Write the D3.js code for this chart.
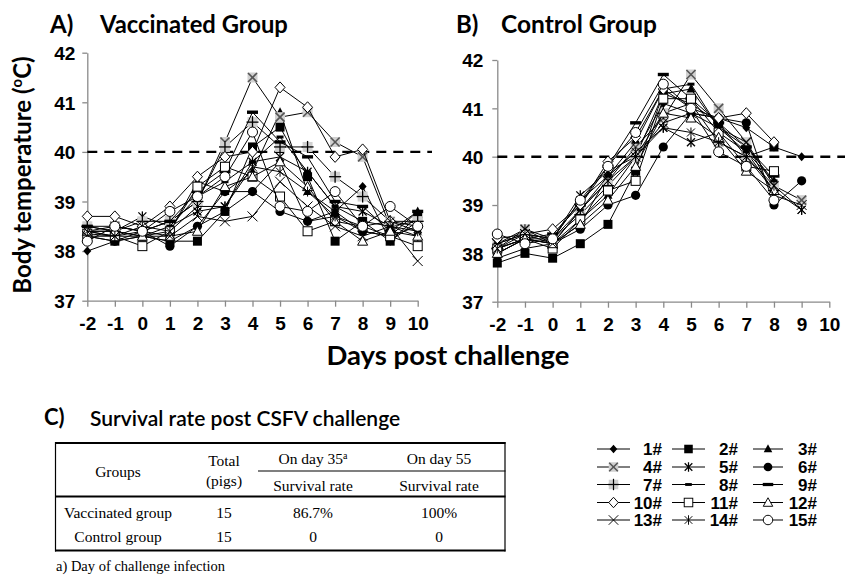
<!DOCTYPE html>
<html><head><meta charset="utf-8">
<script src="https://cdn.jsdelivr.net/npm/d3@7"></script>
<style>body{margin:0;background:#fff} svg{display:block}</style>
</head><body><svg id="c" width="845" height="575"></svg>
<script>
// ---------------- data ----------------
const days = [-2,-1,0,1,2,3,4,5,6,7,8,9,10];
const controlDays = [-2,-1,0,1,2,3,4,5,6,7,8,9];
const yTicks = [37,38,39,40,41,42];
const feverThreshold = 40;
const pigLabels = ["1#","2#","3#","4#","5#","6#","7#","8#","9#","10#","11#","12#","13#","14#","15#"];
const markerTypes = ["diamondFill","squareFill","triangleFill","xGray","asterisk","circleFill","plusGray",
  "dashShort","dashLong","diamondOpen","squareOpen","triangleOpen","x","asteriskThin","circleOpen"];

// Vaccinated group, days -2..10
const vaccinated = [
  [38.0,38.2,38.3,38.2,38.5,38.8,39.2,39.8,38.6,38.8,39.3,38.2,38.6],
  [38.3,38.2,38.3,38.2,38.2,38.8,40.1,40.5,39.5,38.2,38.6,38.2,38.7],
  [38.4,38.3,38.3,38.4,39.4,39.2,39.6,40.8,39.2,38.8,38.4,38.3,38.8],
  [38.4,38.5,38.4,38.6,39.0,40.2,41.5,40.7,40.8,40.2,39.9,38.5,38.6],
  [38.5,38.4,38.7,38.5,38.8,38.9,39.8,39.9,39.6,38.9,38.8,38.5,38.3],
  [38.3,38.2,38.4,38.1,38.5,39.2,39.2,38.8,38.6,38.7,38.4,38.3,38.5],
  [38.5,38.4,38.6,38.6,39.0,40.1,40.6,40.1,40.1,39.5,39.1,38.6,38.6],
  [38.4,38.4,38.3,38.5,39.1,39.4,39.8,40.3,39.6,38.9,38.6,38.5,38.4],
  [38.5,38.5,38.4,38.6,39.2,39.6,40.8,40.2,39.9,39.0,38.9,38.4,38.8],
  [38.7,38.7,38.5,38.9,39.5,39.9,40.0,41.3,40.9,39.9,40.05,38.6,38.5],
  [38.35,38.3,38.1,38.4,39.3,39.7,39.5,39.1,38.4,38.6,38.5,38.3,38.1],
  [38.4,38.4,38.3,38.3,38.4,39.3,39.5,39.8,39.3,38.6,38.2,38.4,38.3],
  [38.3,38.3,38.4,38.3,38.7,38.6,38.7,39.4,38.9,38.5,38.3,38.5,37.8],
  [38.4,38.3,38.5,38.4,38.9,38.9,39.7,39.6,39.2,38.7,38.5,38.6,38.4],
  [38.2,38.5,38.4,38.8,39.1,39.5,40.4,38.9,38.8,39.2,38.5,38.9,38.5]
];
// Control group, days -2..9 (null = no reading)
const control = [
  [37.9,38.1,38.2,38.6,39.6,40.1,41.1,40.9,40.8,40.6,40.2,40.0],
  [37.8,38.0,37.9,38.2,38.6,39.7,41.3,41.1,40.7,40.0,40.2,null],
  [38.0,38.3,38.2,38.7,39.2,40.0,41.3,41.4,40.6,40.2,39.5,null],
  [38.2,38.5,38.2,38.9,39.5,40.2,40.8,41.7,41.0,40.3,39.4,39.1],
  [38.1,38.4,38.3,39.2,39.7,40.0,40.6,40.3,40.5,40.1,39.3,38.9],
  [38.0,38.3,38.2,38.5,39.0,39.2,40.2,40.9,40.8,40.7,39.0,39.5],
  [38.1,38.3,38.3,38.8,39.4,40.0,40.9,41.1,40.3,40.0,39.3,null],
  [38.2,38.4,38.3,38.9,39.6,40.3,41.4,41.5,40.6,40.1,39.5,null],
  [38.1,38.3,38.4,39.0,39.8,40.7,41.7,41.2,40.7,40.2,39.6,null],
  [38.3,38.4,38.5,39.0,39.9,40.4,41.4,41.0,40.8,40.9,40.3,null],
  [38.1,38.3,38.1,38.7,39.3,39.5,41.2,41.2,40.5,39.8,39.7,null],
  [38.0,38.3,38.2,38.6,39.1,39.8,40.9,40.8,40.4,39.7,39.3,null],
  [38.2,38.4,38.2,38.9,39.5,40.0,40.7,40.9,40.6,40.3,39.2,39.0],
  [38.1,38.5,38.3,39.1,39.6,40.1,40.6,40.5,40.3,40.0,39.4,38.9],
  [38.4,38.2,38.3,39.1,39.8,40.5,41.5,41.0,40.1,39.8,39.1,null]
];

const tableHeadGroups = "Groups";
const tableHeadTotal = ["Total","(pigs)"];
const tableHeadDays = ["On day 35","On day 55"];
const tableSubHead = "Survival rate";
const tableGroups = ["Vaccinated group","Control group"];
const tableTotals = ["15","15"];
const survivalDay35 = ["86.7%","0"];
const survivalDay55 = ["100%","0"];
const footnote = "a) Day of challenge infection";

// ---------------- drawing ----------------
const svg = d3.select("#c");
const SANS = "'Liberation Sans', Arial, sans-serif";
const TITLE = "Lato, 'Open Sans', sans-serif";
const SERIF = "'Liberation Serif', 'Times New Roman', serif";
const GRAY = "#d0d0d0";

function drawMarker(g, type, x, y, s = 1) {
  const m = g.append("g").attr("transform", `translate(${x},${y}) scale(${s})`);
  const line = (x1,y1,x2,y2,w=1.2,c="#000") => m.append("line").attr("x1",x1).attr("y1",y1).attr("x2",x2).attr("y2",y2).attr("stroke",c).attr("stroke-width",w);
  switch (type) {
    case "diamondFill": m.append("path").attr("d","M0,-4.5L4,0L0,4.5L-4,0Z").attr("fill","#000"); break;
    case "squareFill": m.append("rect").attr("x",-4.5).attr("y",-4.5).attr("width",9).attr("height",9).attr("fill","#000"); break;
    case "triangleFill": m.append("path").attr("d","M0,-5L4.5,3.5L-4.5,3.5Z").attr("fill","#000"); break;
    case "xGray":
      m.append("rect").attr("x",-5).attr("y",-5).attr("width",10).attr("height",10).attr("fill",GRAY);
      line(-4.5,-4.5,4.5,4.5,1.6,"#555"); line(-4.5,4.5,4.5,-4.5,1.6,"#555"); break;
    case "asterisk":
      line(-4,-4,4,4,1.3); line(-4,4,4,-4,1.3); line(0,-5,0,5,1.3); break;
    case "circleFill": m.append("circle").attr("r",4.6).attr("fill","#000"); break;
    case "plusGray":
      m.append("rect").attr("x",-5).attr("y",-5).attr("width",10).attr("height",10).attr("fill",GRAY);
      line(-6,0,6,0,1.3); line(0,-6,0,6,1.3); break;
    case "dashShort": m.append("rect").attr("x",-3.5).attr("y",-1.5).attr("width",7).attr("height",3).attr("fill","#000"); break;
    case "dashLong": m.append("rect").attr("x",-5.5).attr("y",-1.7).attr("width",11).attr("height",3.4).attr("fill","#000"); break;
    case "diamondOpen": m.append("path").attr("d","M0,-5.5L5,0L0,5.5L-5,0Z").attr("fill","#fff").attr("stroke","#000").attr("stroke-width",1); break;
    case "squareOpen": m.append("rect").attr("x",-4.5).attr("y",-4.5).attr("width",9).attr("height",9).attr("fill","#fff").attr("stroke","#000").attr("stroke-width",1); break;
    case "triangleOpen": m.append("path").attr("d","M0,-5L5,4L-5,4Z").attr("fill","#fff").attr("stroke","#000").attr("stroke-width",1); break;
    case "x": line(-5,-5,5,5,1); line(-5,5,5,-5,1); break;
    case "asteriskThin": line(-4,-4,4,4,1); line(-4,4,4,-4,1); line(0,-5,0,5,1); break;
    case "circleOpen": m.append("circle").attr("r",5).attr("fill","#fff").attr("stroke","#000").attr("stroke-width",1); break;
  }
}

function panel(cfg) {
  const x = d3.scaleLinear().domain([-2,10]).range(cfg.xr);
  const y = d3.scaleLinear().domain([37,42]).range(cfg.yr);
  const g = svg.append("g");
  const xa = g.append("g").attr("transform",`translate(0,${cfg.yr[0]})`)
    .call(d3.axisBottom(x).tickValues(days).tickFormat(d=>String(d)).tickSize(6).tickSizeOuter(0).tickPadding(10));
  const ya = g.append("g").attr("transform",`translate(${cfg.xr[0]},0)`)
    .call(d3.axisLeft(y).tickValues(yTicks).tickFormat(d=>String(d)).tickSize(5).tickSizeOuter(0).tickPadding(cfg.yPad));
  [xa,ya].forEach(a=>{
    a.select(".domain").attr("stroke","#8a8a8a").attr("stroke-width",1.3);
    a.selectAll(".tick line").attr("stroke","#8a8a8a").attr("stroke-width",1.3);
    a.selectAll("text").attr("font-family",SANS).attr("font-weight","bold").attr("font-size",19).attr("fill","#000");
  });
  ya.selectAll("text").attr("dy","0.36em");
  g.append("line").attr("x1",cfg.xr[0]).attr("x2",cfg.dashEnd)
    .attr("y1",y(feverThreshold)).attr("y2",y(feverThreshold))
    .attr("stroke","#000").attr("stroke-width",2.4).attr("stroke-dasharray","10,7");
  const ln = d3.line().defined(d=>d[1]!=null).x(d=>x(d[0])).y(d=>y(d[1]));
  cfg.data.forEach((vals,i)=>{
    const pts = cfg.days.map((d,j)=>[d,vals[j]]);
    g.append("path").attr("d",ln(pts)).attr("fill","none").attr("stroke","#000").attr("stroke-width",1);
    pts.filter(p=>p[1]!=null).forEach(p=>drawMarker(g,markerTypes[i],x(p[0]),y(p[1])));
  });
  svg.append("text").attr("x",cfg.labX).attr("y",33).text(cfg.lab)
    .attr("font-family",TITLE).attr("font-weight","bold").attr("font-size",24);
  svg.append("text").attr("x",cfg.titX).attr("y",33).text(cfg.title)
    .attr("font-family",TITLE).attr("font-weight","bold").attr("font-size",cfg.titSize);
}

panel({xr:[87.3,417.7], yr:[300.7,52.7], yPad:7, dashEnd:432, data:vaccinated, days:days,
  lab:"A)", labX:50, title:"Vaccinated Group", titX:100, titSize:23.8});
panel({xr:[497.3,829.3], yr:[301.7,60], yPad:9, dashEnd:845, data:control, days:controlDays,
  lab:"B)", labX:456, title:"Control Group", titX:501, titSize:24.5});

// axis titles
const yl = svg.append("text").attr("transform","translate(31,175) rotate(-90)").attr("text-anchor","middle")
  .attr("font-family",TITLE).attr("font-weight","bold").attr("font-size",24);
yl.append("tspan").text("Body temperature (");
yl.append("tspan").text("o").attr("font-size",15).attr("dy",-9);
yl.append("tspan").text("C)").attr("dy",9);
svg.append("text").attr("x",448).attr("y",365).attr("text-anchor","middle").text("Days post challenge")
  .attr("font-family",TITLE).attr("font-weight","bold").attr("font-size",27.5);

// section C
svg.append("text").attr("x",44).attr("y",425).text("C)").attr("font-family",TITLE).attr("font-weight","bold").attr("font-size",22);
svg.append("text").attr("x",90).attr("y",426).text("Survival rate post CSFV challenge").attr("font-family",TITLE).attr("font-weight","600").attr("font-size",21);

const T = svg.append("g").attr("font-family",SERIF).attr("font-size",15.5).attr("text-anchor","middle");
const hl = (x1,x2,y,w)=>T.append("line").attr("x1",x1).attr("x2",x2).attr("y1",y).attr("y2",y).attr("stroke","#000").attr("stroke-width",w);
const vl = (x,y1,y2,w)=>T.append("line").attr("x1",x).attr("x2",x).attr("y1",y1).attr("y2",y2).attr("stroke","#000").attr("stroke-width",w);
hl(55,505.5,443,2); hl(55,505.5,496.5,1.8); hl(55,505.5,550.5,2); hl(258,505.5,471,1.2);
vl(55.5,442,551.5,1.2); vl(505,442,551.5,1.2);
const colX = [118,224,313,439];
T.append("text").attr("x",colX[0]).attr("y",477).text(tableHeadGroups);
T.append("text").attr("x",colX[1]).attr("y",466).text(tableHeadTotal[0]);
T.append("text").attr("x",colX[1]).attr("y",486).text(tableHeadTotal[1]);
const h35 = T.append("text").attr("x",colX[2]).attr("y",464);
h35.append("tspan").text(tableHeadDays[0]);
h35.append("tspan").text("a").attr("font-size",10).attr("dy",-5);
T.append("text").attr("x",colX[3]).attr("y",464).text(tableHeadDays[1]);
T.append("text").attr("x",colX[2]).attr("y",491).text(tableSubHead);
T.append("text").attr("x",colX[3]).attr("y",491).text(tableSubHead);
tableGroups.forEach((gname,i)=>{
  const yy = 518 + i*24;
  T.append("text").attr("x",colX[0]).attr("y",yy).text(gname);
  T.append("text").attr("x",colX[1]).attr("y",yy).text(tableTotals[i]);
  T.append("text").attr("x",colX[2]).attr("y",yy).text(survivalDay35[i]);
  T.append("text").attr("x",colX[3]).attr("y",yy).text(survivalDay55[i]);
});
svg.append("text").attr("x",56).attr("y",571).text(footnote).attr("font-family",SERIF).attr("font-size",14.5);

// legend
const legCols = [[597,630,662],[672,705,738],[753,783,817]];
const legRows = [449,467,484.5,502.5,520];
pigLabels.forEach((lab,i)=>{
  const c = legCols[i%3], yy = legRows[Math.floor(i/3)];
  svg.append("line").attr("x1",c[0]).attr("x2",c[1]).attr("y1",yy).attr("y2",yy).attr("stroke","#000").attr("stroke-width",1);
  drawMarker(svg,markerTypes[i],(c[0]+c[1])/2,yy,0.95);
  svg.append("text").attr("x",c[2]).attr("y",yy+6).attr("text-anchor","end").text(lab)
    .attr("font-family",SANS).attr("font-weight","bold").attr("font-size",17);
});
</script></body></html>
